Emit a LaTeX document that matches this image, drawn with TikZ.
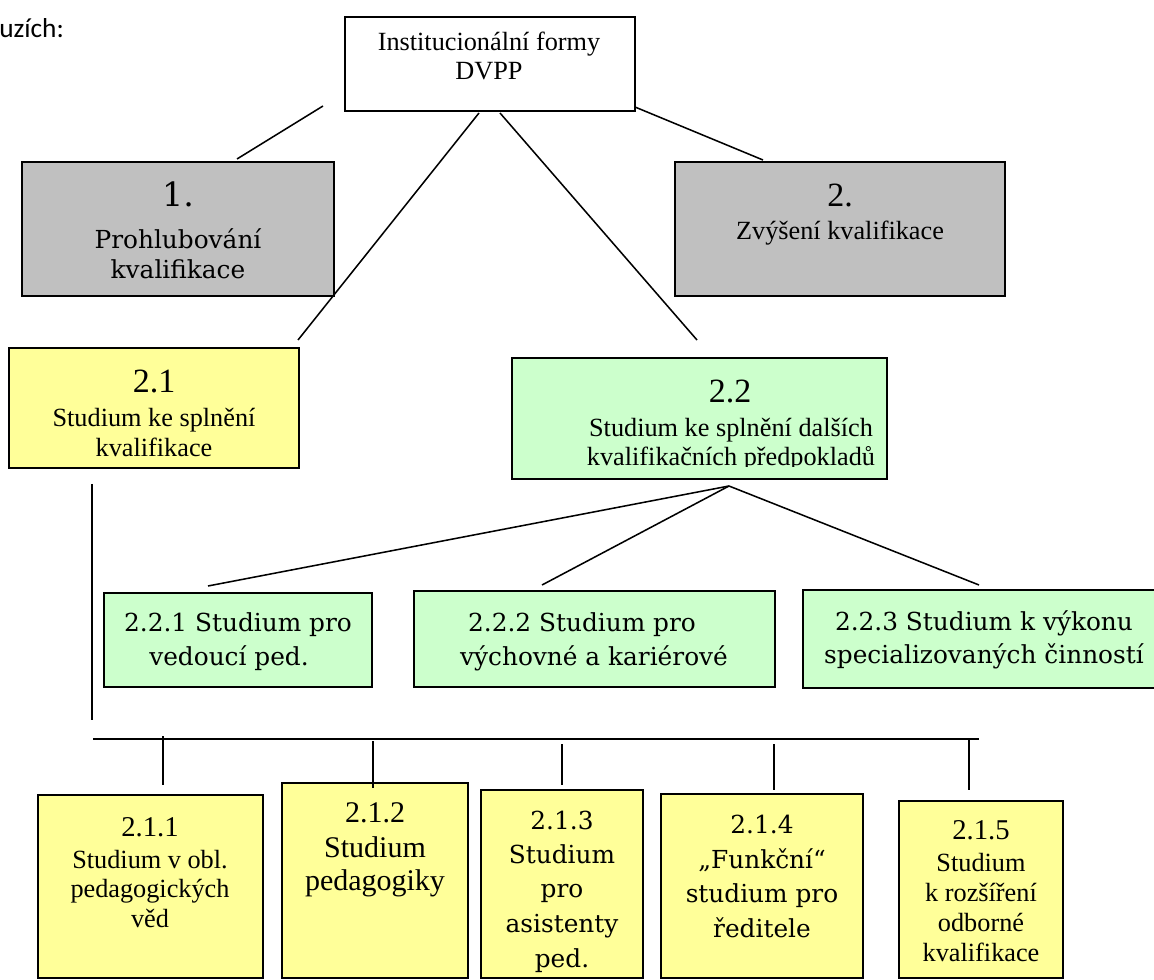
\documentclass[tikz,border=0pt]{standalone}
\usepackage{fontspec}
\usetikzlibrary{fit}
\newfontfamily\fTimes{Liberation Serif}
\newfontfamily\fCamb{DejaVu Serif}
\newfontfamily\fCal{Carlito}
\newcommand\fsz[1]{\fontsize{#1}{#1}\selectfont}
\definecolor{boxgray}{HTML}{C0C0C0}
\definecolor{boxyellow}{HTML}{FFFF99}
\definecolor{boxgreen}{HTML}{CCFFCC}
\tikzset{
  box/.style={draw=black, line width=1.5pt, inner sep=0pt, rectangle},
  conn/.style={draw=black, line width=1.15pt},
  tl/.style={anchor=base, inner sep=0pt, text=black},
  tms/.style={tl, font=\fTimes\fsz{19.7}},
  tmbig/.style={tl, font=\fTimes\fsz{25.5}},
  tmnum/.style={tl, font=\fTimes\fsz{21.5}},
  cmb/.style={tl, font=\fCamb\fsz{18.6}},
  cmbbig/.style={tl, font=\fCamb\fsz{25}},
}
\begin{document}
\begin{tikzpicture}[x=0.75pt,y=-0.75pt]
\clip (0,0) rectangle (1154,980);
\fill[white] (0,0) rectangle (1154,980);

% fragment of text
\node[tl, anchor=base west, font=\fCal\fsz{20.5}] (frag) at (-1,38) {uzích:};

% boxes
\node[box, fill=white, fit={(345,17) (635,111)}] (top) {};
\node[box, fill=boxgray, fit={(22,162) (334,296)}] (b1) {};
\node[box, fill=boxgray, fit={(675,162) (1005,296)}] (b2) {};
\node[box, fill=boxyellow, fit={(9,348) (299,468)}] (b21) {};
\node[box, fill=boxgreen, fit={(512,358) (887,479)}] (b22) {};
\node[box, fill=boxgreen, fit={(104,593) (372,687)}] (b221) {};
\node[box, fill=boxgreen, fit={(414,591) (775,687)}] (b222) {};
\node[box, fill=boxgreen, fit={(803,590) (1165,688)}] (b223) {};
\node[box, fill=boxyellow, fit={(38,795) (263,978)}] (b211) {};
\node[box, fill=boxyellow, fit={(282,783) (468,978)}] (b212) {};
\node[box, fill=boxyellow, fit={(481,790) (643,978)}] (b213) {};
\node[box, fill=boxyellow, fit={(661,794) (863,978)}] (b214) {};
\node[box, fill=boxyellow, fit={(899,801) (1063,978)}] (b215) {};

% connector end points
\coordinate (l1a) at (323,106); \coordinate (l1b) at (237,159);
\coordinate (l2a) at (635,107); \coordinate (l2b) at (763,160);
\coordinate (l3a) at (479,113); \coordinate (l3b) at (298,340);
\coordinate (l4a) at (500,113); \coordinate (l4b) at (697,340);
\coordinate (apex) at (729,486);
\coordinate (l5b) at (208,586);
\coordinate (l6b) at (542,585);
\coordinate (l7b) at (979,585);
\coordinate (v1a) at (92,484); \coordinate (v1b) at (92,720);
\coordinate (hA) at (93,739); \coordinate (hB) at (979,739);
\coordinate (t1a) at (163,736); \coordinate (t1b) at (163,785);
\coordinate (t2a) at (373,741); \coordinate (t2b) at (373,788);
\coordinate (t3a) at (562,744); \coordinate (t3b) at (562,785);
\coordinate (t4a) at (774,744); \coordinate (t4b) at (774,790);
\coordinate (t5a) at (969,739); \coordinate (t5b) at (969,790);

\draw[conn] (l1a) -- (l1b);
\draw[conn] (l2a) -- (l2b);
\draw[conn] (l3a) -- (l3b);
\draw[conn] (l4a) -- (l4b);
\draw[conn] (apex) -- (l5b);
\draw[conn] (apex) -- (l6b);
\draw[conn] (apex) -- (l7b);
\draw[conn] (v1a) -- (v1b);
\draw[conn] (hA) -- (hB);
\draw[conn] (t1a) -- (t1b);
\draw[conn] (t2a) -- (t2b);
\draw[conn] (t3a) -- (t3b);
\draw[conn] (t4a) -- (t4b);
\draw[conn] (t5a) -- (t5b);

% top
\node[tms] (top1) at (489,51) {Institucionální formy};
\node[tms] (top2) at (489,80) {DVPP};
% box 1
\node[cmbbig] (b1n) at (178,207) {1.};
\node[cmb] (b1a) at (178,249) {Prohlubování};
\node[cmb] (b1b) at (178,279) {kvalifikace};
% box 2
\node[tmbig] (b2n) at (840,207) {2.};
\node[tms] (b2a) at (840,240) {Zvýšení kvalifikace};
% box 2.1
\node[tmbig] (b21n) at (154,393) {2.1};
\node[tms] (b21a) at (154,427) {Studium ke splnění};
\node[tms] (b21b) at (154,457) {kvalifikace};
% box 2.2
\node[tmbig] (b22n) at (730,403) {2.2};
\begin{scope}
\clip (513,359) rectangle (886,467);
\node[tms] (b22a) at (731,437) {Studium ke splnění dalších};
\node[tms] (b22b) at (731,466) {kvalifikačních předpokladů};
\end{scope}
% 2.2.x
\node[cmb] (b221a) at (238,632) {2.2.1 Studium pro};
\node[cmb] (b221b) at (229,665) {vedoucí ped.};
\node[cmb] (b222a) at (582,632) {2.2.2 Studium pro};
\node[cmb] (b222b) at (594,665) {výchovné a kariérové};
\node[cmb] (b223a) at (984,630) {2.2.3 Studium k výkonu};
\node[cmb] (b223b) at (984,663) {specializovaných činností};
% 2.1.1
\node[tmnum] (b211n) at (150,836) {2.1.1};
\node[tms] (b211a) at (150,868) {Studium v obl.};
\node[tms] (b211b) at (150,897) {pedagogických};
\node[tms] (b211c) at (150,927) {věd};
% 2.1.2
\node[tl, font=\fTimes\fsz{22.5}] (b212n) at (375,822) {2.1.2};
\node[tl, font=\fTimes\fsz{22.5}] (b212a) at (375,857) {Studium};
\node[tl, font=\fTimes\fsz{22.5}] (b212b) at (375,890) {pedagogiky};
% 2.1.3
\node[cmb] (b213n) at (562,829) {2.1.3};
\node[cmb] (b213a) at (562,863) {Studium};
\node[cmb] (b213b) at (562,897) {pro};
\node[cmb] (b213c) at (562,932) {asistenty};
\node[cmb] (b213d) at (562,967) {ped.};
% 2.1.4
\node[cmb] (b214n) at (762,833) {2.1.4};
\node[cmb] (b214a) at (762,868) {„Funkční“};
\node[cmb] (b214b) at (762,902) {studium pro};
\node[cmb] (b214c) at (762,937) {ředitele};
% 2.1.5
\node[tmnum] (b215n) at (981,839) {2.1.5};
\node[tms] (b215a) at (981,871) {Studium};
\node[tms] (b215b) at (981,901) {k rozšíření};
\node[tms] (b215c) at (981,931) {odborné};
\node[tms] (b215d) at (981,961) {kvalifikace};
\end{tikzpicture}
\end{document}
